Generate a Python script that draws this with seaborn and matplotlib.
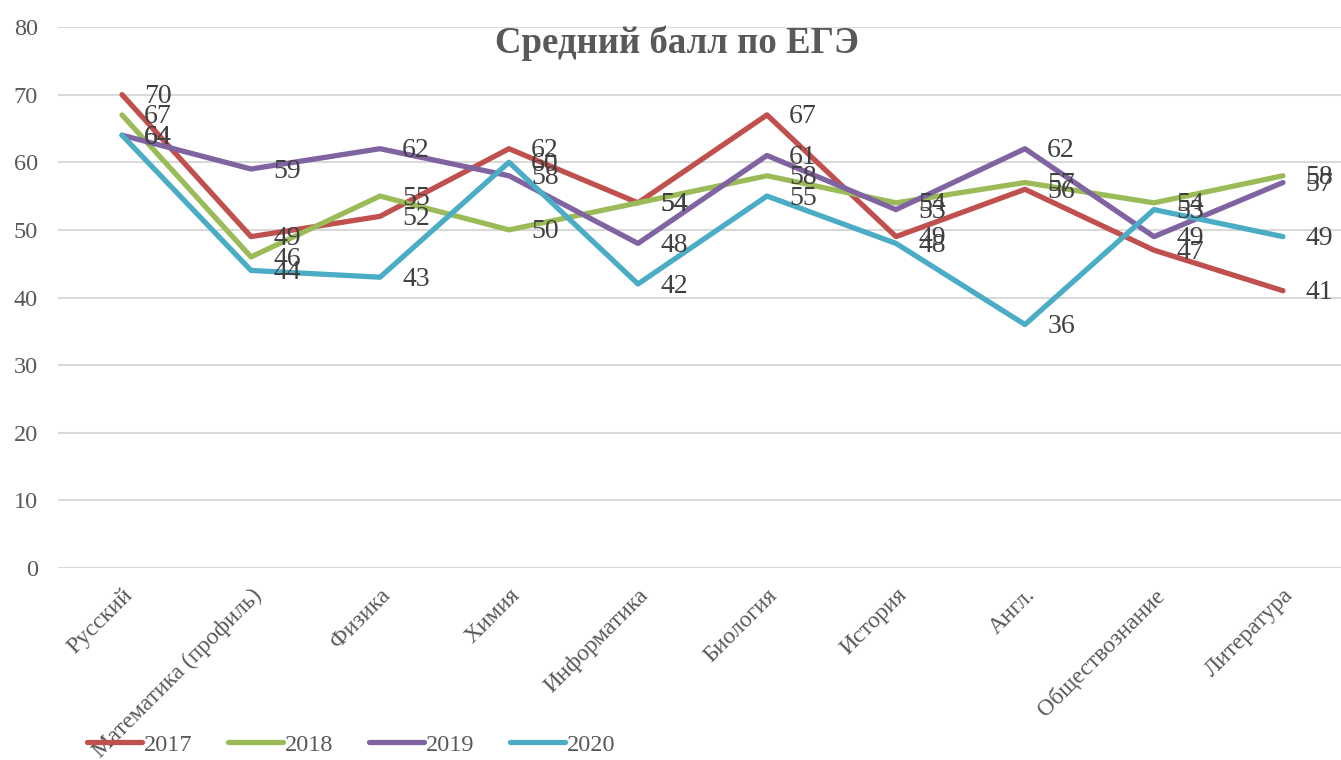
import matplotlib
matplotlib.use("Agg")
import matplotlib.pyplot as plt
import seaborn as sns
import pandas as pd

subjects = ["Русский", "Математика (профиль)", "Физика", "Химия", "Информатика",
            "Биология", "История", "Англ.", "Обществознание", "Литература"]
years = ["2017", "2018", "2019", "2020"]
s2017 = [70, 49, 52, 62, 54, 67, 49, 56, 47, 41]
s2018 = [67, 46, 55, 50, 54, 58, 54, 57, 54, 58]
s2019 = [64, 59, 62, 58, 48, 61, 53, 62, 49, 57]
s2020 = [64, 44, 43, 60, 42, 55, 48, 36, 53, 49]
colors = ["#C0504D", "#9BBB59", "#8064A2", "#4BACC6"]

series = [s2017, s2018, s2019, s2020]
rows = []
for y, vals in zip(years, series):
    for i, (s, v) in enumerate(zip(subjects, vals)):
        rows.append({"pos": i, "subject": s, "year": y, "score": v})
df = pd.DataFrame(rows)

sns.set_theme(style="white")
plt.rcParams["font.family"] = ["Liberation Serif", "DejaVu Serif"]

fig = plt.figure(figsize=(13.41, 7.60), dpi=100)
ax = fig.add_axes([0.0429, 0.2526, 0.9571, 0.7119])

sns.lineplot(data=df, x="pos", y="score", hue="year", palette=colors,
             linewidth=3.8, sort=False, ax=ax, legend=True)

for y, vals in zip(years, series):
    for i, v in enumerate(vals):
        ax.annotate(str(v), (i, v), xytext=(16, -1.5), textcoords="offset points",
                    ha="left", va="center", fontsize=20, color="#404040")

ax.set_xlim(-0.5, 9.45)
ax.set_ylim(0, 80)
ax.set_yticks(range(0, 81, 10))
ax.set_xticks(range(len(subjects)))
ax.set_xticklabels(subjects, rotation=45, ha="right", rotation_mode="anchor")
ax.tick_params(axis="x", length=0, pad=12, labelsize=17, labelcolor="#595959")
ax.tick_params(axis="y", length=0, pad=14, labelsize=17.5, labelcolor="#595959")
ax.set_xlabel("")
ax.set_ylabel("")
ax.grid(axis="y", color="#D9D9D9", linewidth=1.5)
ax.grid(axis="x", visible=False)
for sp in ax.spines.values():
    sp.set_visible(False)

fig.text(0.505, 0.943, "Средний балл по ЕГЭ", ha="center", va="center",
         fontsize=26.5, fontweight="bold", color="#595959")

handles, labels = ax.get_legend_handles_labels()
ax.legend_.remove()
fig.legend(handles, labels, loc="center", bbox_to_anchor=(0.262, 0.02), ncol=4,
           frameon=False, fontsize=17.5, handlelength=2.25, handletextpad=0.1,
           columnspacing=1.45, labelcolor="#595959")

fig.savefig("out.png", dpi=100)
